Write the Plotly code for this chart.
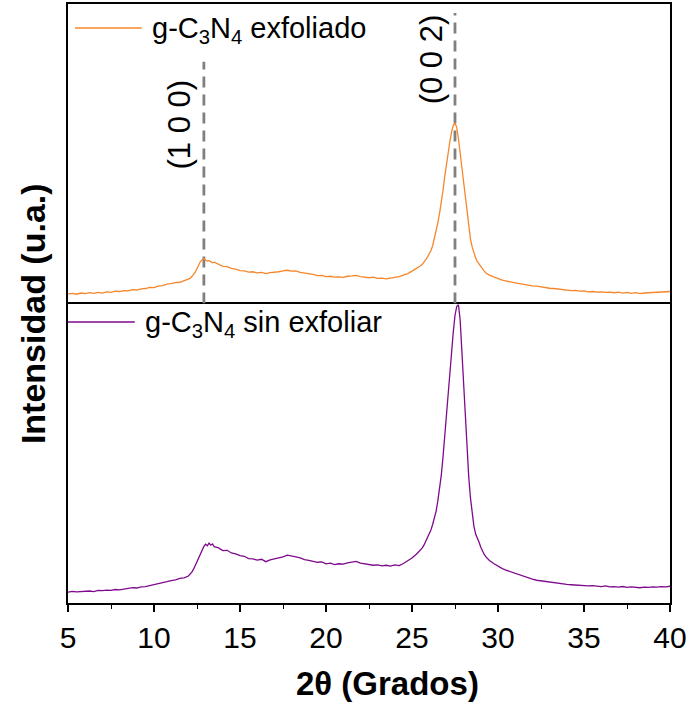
import plotly.graph_objects as go

# 2θ grid (degrees), finer around the two reflections
two_theta = [
    5.00, 5.25, 5.50, 5.75, 6.00, 6.25, 6.50, 6.75, 7.00, 7.25, 7.50, 7.75, 8.00, 8.25, 8.50,
    8.75, 9.00, 9.25, 9.50, 9.75, 10.00, 10.25, 10.50, 10.75, 11.00, 11.25, 11.50, 11.75, 12.00,
    12.1, 12.2, 12.3, 12.4, 12.5, 12.6, 12.7, 12.8, 12.9, 13.0, 13.1, 13.2, 13.3, 13.4, 13.5,
    13.75, 14.00, 14.25, 14.50, 14.75, 15.00, 15.25, 15.50, 15.75, 16.00, 16.25, 16.50, 16.75,
    17.00, 17.25, 17.50, 17.75, 18.00, 18.25, 18.50, 18.75, 19.00, 19.25, 19.50, 19.75, 20.00,
    20.25, 20.50, 20.75, 21.00, 21.25, 21.50, 21.75, 22.00, 22.25, 22.50, 22.75, 23.00, 23.25,
    23.50, 23.75, 24.00, 24.25, 24.50, 24.75, 25.00, 25.25, 25.50,
    25.6, 25.7, 25.8, 25.9, 26.0, 26.1, 26.2, 26.3, 26.4, 26.5, 26.6, 26.7, 26.8, 26.9, 27.0,
    27.1, 27.2, 27.3, 27.4, 27.5, 27.6, 27.7, 27.8, 27.9, 28.0, 28.1, 28.2, 28.3, 28.4, 28.5,
    28.6, 28.7, 28.8, 28.9, 29.0, 29.1, 29.2, 29.3, 29.4, 29.5,
    29.75, 30.00, 30.25, 30.50, 30.75, 31.00, 31.25, 31.50, 31.75, 32.00, 32.25, 32.50, 32.75,
    33.00, 33.25, 33.50, 33.75, 34.00, 34.25, 34.50, 34.75, 35.00, 35.25, 35.50, 35.75, 36.00,
    36.25, 36.50, 36.75, 37.00, 37.25, 37.50, 37.75, 38.00, 38.25, 38.50, 38.75, 39.00, 39.25,
    39.50, 39.75, 40.00,
]

# exfoliated g-C3N4 (upper panel, arbitrary units)
int_exfoliado = [
    3.2, 3.4, 3.1, 3.5, 3.3, 3.6, 3.4, 3.7, 3.5, 3.9, 3.7, 4.1, 4.0, 4.3, 4.2,
    4.6, 4.5, 4.9, 5.0, 5.4, 5.3, 5.8, 6.0, 6.5, 6.6, 7.0, 7.1, 7.6, 8.0,
    8.4, 9.0, 9.6, 10.5, 11.7, 13.0, 14.0, 14.6, 15.0, 14.5, 14.2, 14.3, 13.9, 13.6, 13.8,
    13.0, 12.4, 12.3, 11.7, 11.5, 11.0, 10.9, 10.5, 10.6, 10.2, 10.4, 10.0, 10.3,
    10.4, 10.6, 10.9, 11.1, 10.8, 10.9, 10.4, 10.2, 9.8, 9.7, 9.3, 9.4, 9.0,
    9.1, 8.8, 8.9, 8.7, 9.1, 9.2, 9.4, 9.0, 8.9, 8.6, 8.8, 8.4, 8.5,
    8.2, 8.5, 8.7, 9.0, 9.5, 10.0, 10.8, 11.6, 12.6,
    13.1, 13.8, 14.6, 15.5, 16.6, 17.6, 19.3, 21.6, 24.0, 26.8, 30.0, 33.5, 37.6, 42.3, 46.5,
    50.3, 54.0, 57.2, 59.5, 60.3, 58.8, 55.0, 50.3, 44.5, 39.0, 34.8, 29.5, 25.0, 21.5, 18.8,
    16.8, 15.2, 14.0, 13.1, 12.3, 11.6, 10.8, 10.2, 9.8, 9.5,
    8.9, 8.3, 7.8, 7.5, 7.1, 6.9, 6.6, 6.3, 6.2, 5.9, 5.8, 5.5, 5.4,
    5.1, 5.0, 4.8, 4.6, 4.5, 4.3, 4.4, 4.1, 4.2, 3.9, 4.0, 3.8, 3.9,
    3.7, 3.8, 3.6, 3.8, 3.5, 3.7, 3.4, 3.6, 3.3, 3.5, 3.6, 3.7, 3.6,
    3.9, 3.8, 4.0,
]

# bulk g-C3N4 (lower panel, arbitrary units)
int_sin_exfoliar = [
    3.6, 3.9, 3.7, 3.8, 3.9, 4.0, 3.8, 4.2, 4.1, 4.3, 4.2, 4.5, 4.4, 4.7, 4.8,
    5.1, 5.0, 5.4, 5.5, 5.8, 6.0, 6.4, 6.6, 7.1, 7.5, 7.7, 8.2, 8.4, 9.0,
    9.6, 10.3, 11.3, 12.6, 13.9, 15.2, 16.5, 17.8, 18.9, 19.6, 19.1, 20.0, 19.3, 19.7, 18.8,
    18.4, 17.5, 17.6, 16.7, 16.4, 15.8, 15.6, 14.8, 14.7, 14.3, 14.6, 13.8, 14.4,
    14.7, 15.0, 15.4, 16.0, 15.8, 15.4, 15.1, 14.5, 14.2, 13.9, 13.6, 13.7, 13.1,
    13.3, 12.8, 13.1, 13.0, 13.4, 13.6, 13.9, 13.3, 13.1, 12.9, 12.6, 12.7, 12.4,
    12.6, 12.3, 12.7, 12.5, 13.2, 14.1, 15.0, 16.3, 17.6,
    18.4, 19.4, 20.6, 22.0, 23.3, 24.4, 26.2, 28.5, 30.6, 34.0, 38.2, 42.5, 48.5, 56.0, 63.5,
    71.0, 78.5, 84.8, 90.5, 96.0, 99.0, 99.6, 94.5, 84.0, 73.5, 62.0, 51.0, 42.0, 35.0, 29.5,
    25.6, 23.0, 21.8, 20.3, 18.6, 17.2, 16.2, 15.4, 14.8, 14.2,
    13.2, 12.3, 11.5, 10.9, 10.4, 9.8, 9.3, 8.8, 8.3, 8.0, 7.6, 7.4, 7.0,
    6.9, 6.7, 6.5, 6.4, 6.2, 6.1, 6.0, 5.8, 5.9, 5.7, 5.8, 5.6, 5.5,
    5.7, 5.4, 5.5, 5.3, 5.5, 5.2, 5.4, 5.3, 5.1, 5.3, 5.2, 5.4, 5.3,
    5.5, 5.4, 5.6,
]

# reflections marked with dashed guides (position, label, label x, label y, guide top)
peak_positions = [12.9, 27.5]
peak_labels = ["(1 0 0)", "(0 0 2)"]
label_x = [11.5, 26.1]
label_y = [59.7, 81.5]
guide_top = [80.7, 97.0]

tick_values = [5, 10, 15, 20, 25, 30, 35, 40]

ORANGE = "#F7862A"
PURPLE = "#7E0A8C"
FONT = "Liberation Sans, Arial, sans-serif"

fig = go.Figure()
fig.add_trace(go.Scatter(x=two_theta, y=int_exfoliado, mode="lines", xaxis="x2", yaxis="y2",
                         line=dict(color=ORANGE, width=1.3), showlegend=False))
fig.add_trace(go.Scatter(x=two_theta, y=int_sin_exfoliar, mode="lines", xaxis="x", yaxis="y",
                         line=dict(color=PURPLE, width=1.3), showlegend=False))

for pos, top in zip(peak_positions, guide_top):
    fig.add_shape(type="line", xref="x2", yref="y2", x0=pos, x1=pos, y0=0, y1=top,
                  line=dict(color="#808080", width=2.8, dash="11px,7px"), layer="below")

for lab, lx, ly in zip(peak_labels, label_x, label_y):
    fig.add_annotation(x=lx, y=ly, xref="x2", yref="y2", text=lab, textangle=-90,
                       xanchor="center", yanchor="middle",
                       showarrow=False, font=dict(size=31, color="black", family=FONT))

# legend keys drawn in paper space
def px_x(p):
    return (p - 68) / 604

def px_y(p):
    return (603 - p) / 599

legend_items = [
    ("g-C<sub>3</sub>N<sub>4</sub> exfoliado", ORANGE, 75, 142, 150, 30),
    ("g-C<sub>3</sub>N<sub>4</sub> sin exfoliar", PURPLE, 68, 135, 143, 324),
]
for txt, col, lx0, lx1, tx, ty in legend_items:
    fig.add_shape(type="line", xref="paper", yref="paper", x0=px_x(lx0), x1=px_x(lx1),
                  y0=px_y(ty - 2), y1=px_y(ty - 2), line=dict(color=col, width=1.5))
    fig.add_annotation(x=px_x(tx), y=px_y(ty), xref="paper", yref="paper", text=txt,
                       xanchor="left", yanchor="middle", showarrow=False,
                       font=dict(size=29, color="black", family=FONT))

fig.add_annotation(x=px_x(33), y=px_y(314), xref="paper", yref="paper",
                   text="<b>Intensidad (u.a.)</b>", textangle=-90, showarrow=False,
                   xanchor="center", yanchor="middle",
                   font=dict(size=34, color="black", family=FONT))
fig.add_annotation(x=px_x(389), y=px_y(683), xref="paper", yref="paper",
                   text="<b>2θ (Grados)</b>", showarrow=False,
                   xanchor="center", yanchor="middle",
                   font=dict(size=33, color="black", family=FONT))

frame = dict(showline=True, linecolor="black", linewidth=1.5,
             showgrid=False, zeroline=False)

fig.update_layout(
    width=691, height=702,
    margin=dict(l=68, r=19, t=4, b=99),
    plot_bgcolor="white", paper_bgcolor="white",
    font=dict(family=FONT, color="black"),
    xaxis=dict(domain=[0, 1], anchor="y", range=[5, 40], tickvals=tick_values, mirror=True,
               ticks="outside", ticklen=7, tickwidth=1.5, tickcolor="black",
               tickfont=dict(size=30, family=FONT, color="black"),
               minor=dict(ticks="outside", ticklen=4, tickwidth=1.3, tickcolor="black", dtick=2.5, tick0=5),
               **frame),
    xaxis2=dict(domain=[0, 1], anchor="y2", side="top", matches="x", range=[5, 40],
                showticklabels=False, ticks="", **frame),
    yaxis=dict(domain=[0, 0.5], anchor="x", range=[0, 100], showticklabels=False, ticks="",
               mirror=True, **frame),
    yaxis2=dict(domain=[0.5, 1], anchor="x2", range=[0, 100], showticklabels=False, ticks="",
                mirror=True, **frame),
)

fig.write_html("out.html")
